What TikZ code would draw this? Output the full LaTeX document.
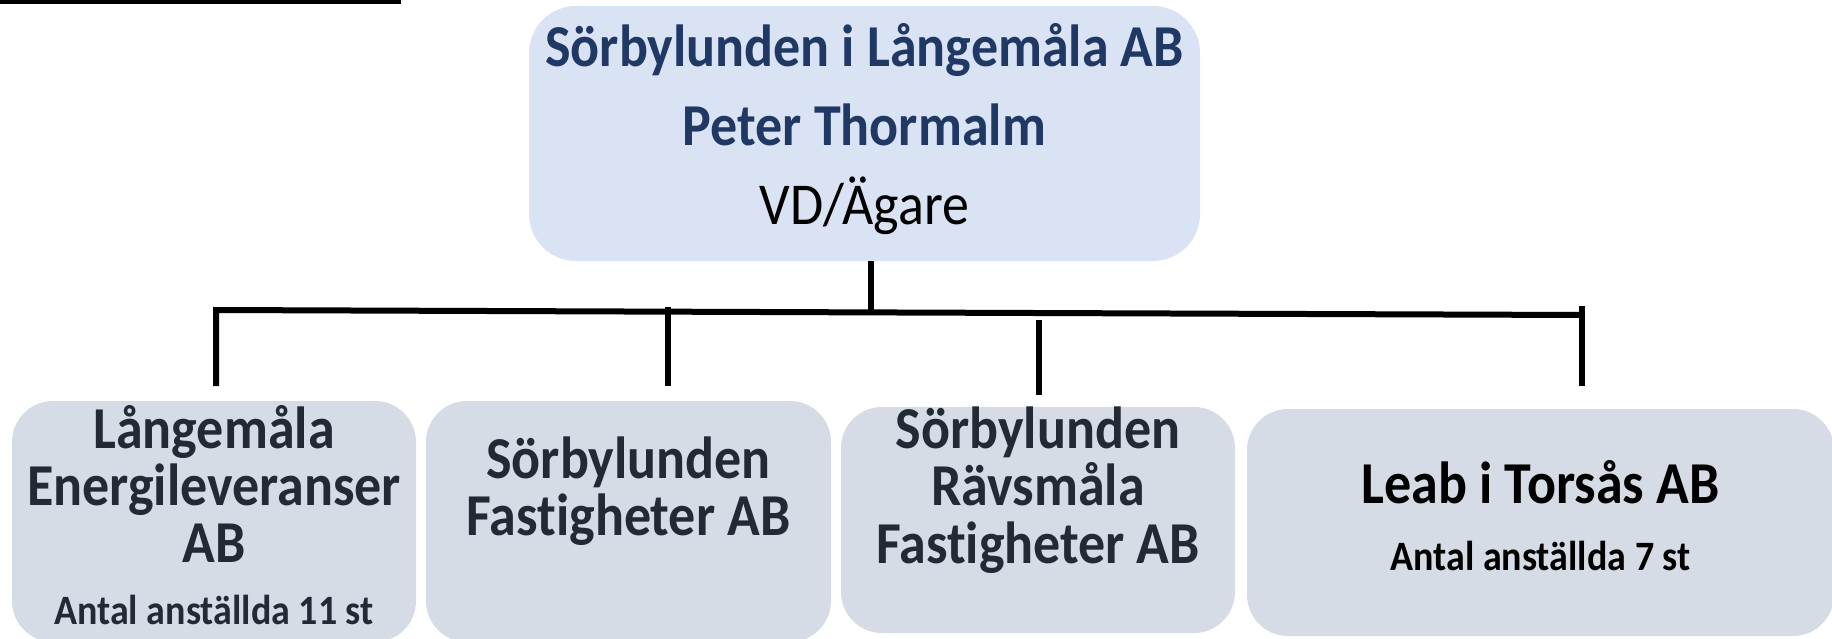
\documentclass[tikz,border=0pt]{standalone}
\usepackage{fontspec}
\setmainfont{Carlito}[Ligatures=NoCommon]
\usepackage{xcolor}
\usetikzlibrary{calc,positioning}
\definecolor{topfill}{HTML}{DAE3F3}
\definecolor{subfill}{HTML}{D6DCE5}
\definecolor{navy}{HTML}{1F3864}
\definecolor{subtext}{HTML}{222A35}

\begin{document}
\begin{tikzpicture}[x=1pt, y=-1pt,
        topbox/.style={rectangle, rounded corners=47pt, fill=topfill, inner sep=0pt,
            minimum width=671pt, minimum height=255pt},
        subbox/.style={rectangle, rounded corners=41pt, fill=subfill, inner sep=0pt},
        toptxt/.style={font=\bfseries\fontsize{54}{72}\selectfont, align=center, text=navy, yscale=1.1},
        bigtxt/.style={font=\bfseries\fontsize{54}{52}\selectfont, align=center, text=subtext, yscale=1.1},
        smalltxt/.style={font=\bfseries\fontsize{38}{44}\selectfont, align=center, text=subtext, yscale=1.1},
        link/.style={line width=6pt}]
    \useasboundingbox (0, 0) rectangle (1832, 638);
    \fill (0, 0) rectangle (401, 4);

    \node[topbox] (owner) at (864.5, 133.5) {};
    \node[toptxt] (owner name) at (864.5, 129)
        {Sörbylunden i Långemåla AB\\Peter Thormalm\\{\mdseries\color{black}VD/Ägare}};

    % companies
    \node[subbox, minimum width=404pt, minimum height=241pt] (energi) at (214, 521.5) {};
    \node[subbox, minimum width=405pt, minimum height=241pt] (fastighet) at (628.5, 521.5) {};
    \node[subbox, minimum width=394pt, minimum height=226pt] (ravsmala) at (1038, 520) {};
    \node[subbox, minimum width=587pt, minimum height=227pt] (leab) at (1540.5, 522.5) {};

    \node[bigtxt] (energi name) at (214, 484) {Långemåla\\Energileveranser\\AB};
    \node[smalltxt] (energi staff) at (214, 610) {Antal anställda 11 st};
    \node[bigtxt] (fastighet name) at (628.5, 491) {Sörbylunden\\Fastigheter AB};
    \node[bigtxt] (ravsmala name) at (1038, 490) {Sörbylunden\\Rävsmåla\\Fastigheter AB};
    \node[bigtxt, text=black] (leab name) at (1540.5, 482) {Leab i Torsås AB};
    \node[smalltxt, text=black] (leab staff) at (1540.5, 556) {Antal anställda 7 st};

    % connectors
    \coordinate (hub) at (871, 311);
    \coordinate (busL) at (216, 310);
    \coordinate (busR) at (1582, 315);
    \coordinate (drop1) at (216, 386);
    \coordinate (top2) at (668, 307);
    \coordinate (drop2) at (668, 386);
    \coordinate (top3) at (1039, 320);
    \coordinate (drop3) at (1039, 395);
    \coordinate (top4) at (1582, 306);
    \coordinate (drop4) at (1582, 386);
    \draw[link] (owner.south -| hub) -- (hub);
    \draw[link] (drop1) -- (busL) -- (busR);
    \draw[link] (top2) -- (drop2);
    \draw[link] (top3) -- (drop3);
    \draw[link] (top4) -- (drop4);
\end{tikzpicture}
\end{document}
